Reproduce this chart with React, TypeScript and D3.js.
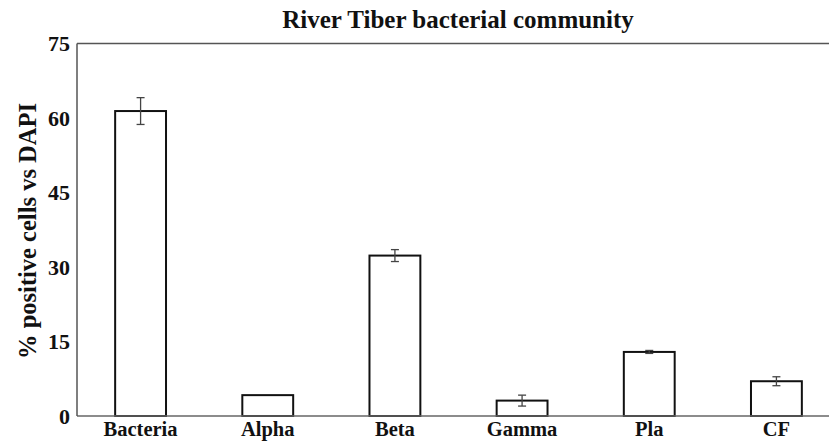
import React from "react";
import * as d3 from "d3";

const categories = ["Bacteria", "Alpha", "Beta", "Gamma", "Pla", "CF"];
const values = [61.4, 4.2, 32.3, 3.1, 12.9, 7.0];
const errors = [2.7, 0, 1.2, 1.1, 0.3, 0.9];
const yTicks = [0, 15, 30, 45, 60, 75];

const W = 829;
const H = 441;
const left = 77;
const top = 43.5;
const bottom = 416;

export default function App() {
  const x = d3.scaleBand<string>().domain(categories).range([left, 840]).paddingInner(0.6).paddingOuter(0.3);
  const y = d3.scaleLinear().domain([0, 75]).range([bottom, top]);
  const font = "'Liberation Serif', 'Times New Roman', serif";
  return (
    <svg width={W} height={H} style={{ position: "absolute", left: 0, top: 0, background: "#fff" }} fontFamily={font}>
      <text x={458} y={27.5} textAnchor="middle" fontSize={25} fontWeight="bold" fill="#111">
        River Tiber bacterial community
      </text>
      <text
        transform={`translate(36,${231}) rotate(-90)`}
        textAnchor="middle"
        fontSize={24.5}
        fontWeight="bold"
        fill="#111"
      >
        % positive cells vs DAPI
      </text>
      {yTicks.map((t) => (
        <text key={t} x={70} y={y(t)} dy="0.35em" textAnchor="end" fontSize={22} fontWeight="bold" fill="#111">
          {t}
        </text>
      ))}
      {categories.map((c, i) => {
        const bx = x(c)!;
        const bw = x.bandwidth();
        const cx = bx + bw / 2;
        return (
          <g key={c}>
            <rect x={bx} y={y(values[i])} width={bw} height={y(0) - y(values[i])} fill="#fff" stroke="#111" strokeWidth={2} />
            {errors[i] > 0 && (
              <g stroke="#444" strokeWidth={1.3}>
                <line x1={cx} x2={cx} y1={y(values[i] + errors[i])} y2={y(values[i] - errors[i])} />
                <line x1={cx - 4} x2={cx + 4} y1={y(values[i] + errors[i])} y2={y(values[i] + errors[i])} />
                <line x1={cx - 4} x2={cx + 4} y1={y(values[i] - errors[i])} y2={y(values[i] - errors[i])} />
              </g>
            )}
            <text x={cx} y={435.5} textAnchor="middle" fontSize={20.5} fontWeight="bold" fill="#111">
              {c}
            </text>
          </g>
        );
      })}
      <line x1={left} x2={W} y1={top} y2={top} stroke="#555" strokeWidth={1.5} />
      <line x1={left} x2={W} y1={bottom} y2={bottom} stroke="#666" strokeWidth={1.5} />
      <line x1={left} x2={left} y1={top} y2={bottom} stroke="#555" strokeWidth={1.5} />
    </svg>
  );
}
